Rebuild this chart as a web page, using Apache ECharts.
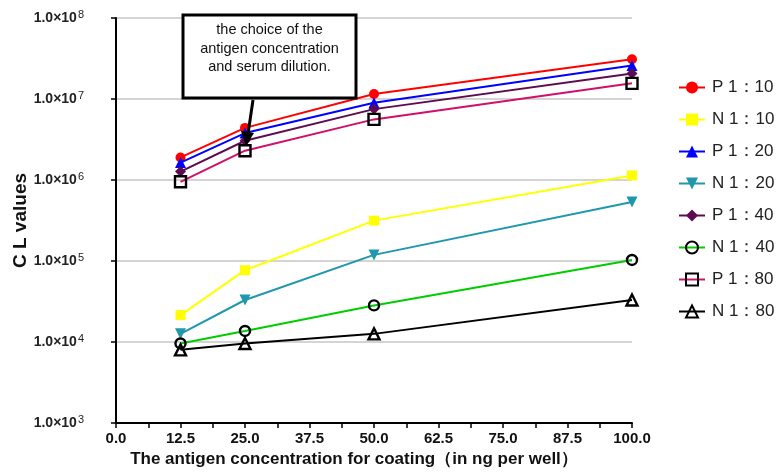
<!DOCTYPE html>
<html><head><meta charset="utf-8">
<script src="https://cdn.jsdelivr.net/npm/echarts@6/dist/echarts.min.js"></script>
<style>html,body{margin:0;padding:0;background:#fff}#c{width:783px;height:476px}</style>
</head><body><div id="c"></div>
<script>
// ---- data ----
const xValues = [12.5, 25, 50, 100];
const seriesNames = ['P 1：10', 'N 1：10', 'P 1：20', 'N 1：20', 'P 1：40', 'N 1：40', 'P 1：80', 'N 1：80'];
const p10 = [1.9e6, 4.4e6, 1.15e7, 3.1e7];
const n10 = [2.15e4, 7.7e4, 3.15e5, 1.14e6];
const p20 = [1.64e6, 3.8e6, 9.0e6, 2.6e7];
const n20 = [1.26e4, 3.3e4, 1.19e5, 5.35e5];
const p40 = [1.27e6, 3.05e6, 7.5e6, 2.07e7];
const n40 = [9.6e3, 1.37e4, 2.83e4, 1.03e5];
const p80 = [9.5e5, 2.3e6, 5.6e6, 1.56e7];
const n80 = [8.0e3, 9.6e3, 1.26e4, 3.3e4];
const xTicks = [0, 12.5, 25, 37.5, 50, 62.5, 75, 87.5, 100];
const yTickExponents = [3, 4, 5, 6, 7, 8];
const xAxisTitle = 'The antigen concentration for coating（in ng per well）';
const yAxisTitle = 'C L values';
const noteLines = ['the choice of the', 'antigen concentration', 'and serum dilution.'];

// ---- styles ----
const TRANSPARENT = 'rgba(0,0,0,0)';
const styles = [
  { symbol: 'circle', size: 10, line: '#ff0000', fill: '#ff0000', border: '#ff0000', bw: 0 },
  { symbol: 'rect', size: 10, line: '#ffff00', fill: '#ffff00', border: '#ffff00', bw: 0 },
  { symbol: 'triangle', size: 11, line: '#0000ff', fill: '#0000ff', border: '#0000ff', bw: 0 },
  { symbol: 'path://M0,0 L10,0 L5,9 Z', size: 11, line: '#1f97ad', fill: '#1f97ad', border: '#1f97ad', bw: 0 },
  { symbol: 'diamond', size: 11, line: '#5e0c52', fill: '#5e0c52', border: '#5e0c52', bw: 0 },
  { symbol: 'circle', size: 10, line: '#00cc00', fill: TRANSPARENT, border: '#000', bw: 2.4 },
  { symbol: 'rect', size: 11, line: '#d0106a', fill: TRANSPARENT, border: '#000', bw: 2.4 },
  { symbol: 'triangle', size: 11, line: '#000000', fill: TRANSPARENT, border: '#000', bw: 2.4 }
];
const allData = [p10, n10, p20, n20, p40, n40, p80, n80];

const FONT = 'Liberation Sans, Arial, sans-serif';

const series = allData.map((vals, i) => ({
  name: seriesNames[i],
  type: 'line',
  data: xValues.map((x, j) => [x, vals[j]]),
  symbol: styles[i].symbol,
  symbolSize: styles[i].size,
  showAllSymbol: true,
  lineStyle: { color: styles[i].line, width: 2 },
  itemStyle: { color: styles[i].fill, borderColor: styles[i].border, borderWidth: styles[i].bw },
  emphasis: { disabled: true },
  z: 3 + i
}));

const chart = echarts.init(document.getElementById('c'), null, { renderer: 'canvas' });
chart.setOption({
  animation: false,
  backgroundColor: '#fff',
  grid: { left: 116, right: 151, top: 18, bottom: 53, containLabel: false, outerBoundsMode: 'none' },
  xAxis: {
    type: 'value',
    min: xTicks[0], max: xTicks[xTicks.length - 1], interval: xTicks[1] - xTicks[0],
    name: xAxisTitle,
    nameLocation: 'middle',
    nameGap: 24,
    nameTextStyle: { fontFamily: FONT, fontWeight: 'bold', fontSize: 17, color: '#111', padding: [0, 40, 0, 0] },
    axisLine: { show: true, lineStyle: { color: '#000', width: 2 } },
    axisTick: { show: true, length: 5, lineStyle: { color: '#000', width: 1.5 } },
    minorTick: { show: true, splitNumber: 2, length: 5, lineStyle: { color: '#000', width: 1.5 } },
    splitLine: { show: false },
    axisLabel: {
      margin: 8, fontFamily: FONT, fontWeight: 'bold', fontSize: 15, color: '#111',
      formatter: v => v.toFixed(1)
    }
  },
  yAxis: {
    type: 'log', logBase: 10,
    min: Math.pow(10, yTickExponents[0]), max: Math.pow(10, yTickExponents[yTickExponents.length - 1]),
    name: yAxisTitle,
    nameLocation: 'middle',
    nameGap: 86,
    nameMoveOverlap: false,
    nameRotate: 90,
    nameTextStyle: { fontFamily: FONT, fontWeight: 'bold', fontSize: 19, color: '#111' },
    axisLine: { show: true, lineStyle: { color: '#000', width: 2 } },
    axisTick: { show: true, length: 5, lineStyle: { color: '#000', width: 1.5 } },
    splitLine: { show: true, lineStyle: { color: '#d4d4d4', width: 2 } },
    axisLabel: {
      margin: 32,
      formatter: v => '{a|1.0×10}{b|' + Math.round(Math.log10(v)) + '}',
      rich: {
        a: { fontFamily: FONT, fontWeight: 'bold', fontSize: 14, color: '#222', lineHeight: 17 },
        b: { fontFamily: FONT, fontSize: 11, color: '#222', verticalAlign: 'top', padding: [0, 0, 7, 1] }
      }
    }
  },
  legend: {
    orient: 'vertical',
    left: 673, top: 74,
    itemWidth: 26, itemHeight: 15, itemGap: 15,
    textStyle: { fontFamily: FONT, fontSize: 17, color: '#222', padding: [0, 0, 0, 2] },
    data: seriesNames
  },
  graphic: [
    { type: 'rect', z: 100, shape: { x: 183, y: 15, width: 173, height: 83 },
      style: { fill: '#fff', stroke: '#000', lineWidth: 3 } },
    { type: 'text', z: 101, x: 269.5, y: 21,
      style: { text: noteLines.join('\n'), align: 'center', verticalAlign: 'top',
               fontFamily: FONT, fontSize: 14.5, lineHeight: 18.5, fill: '#111' } },
    { type: 'line', z: 100, shape: { x1: 253, y1: 100, x2: 248, y2: 134 },
      style: { stroke: '#000', lineWidth: 3 } },
    { type: 'polygon', z: 100, shape: { points: [[241, 131], [254, 133], [246, 146]] },
      style: { fill: '#000' } }
  ],
  series: series
});
</script></body></html>
